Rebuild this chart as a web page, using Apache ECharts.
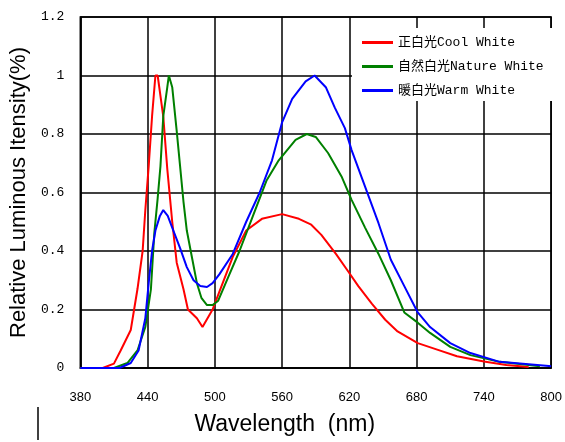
<!DOCTYPE html>
<html>
<head>
<meta charset="utf-8">
<script src="https://cdn.jsdelivr.net/npm/echarts@6/dist/echarts.min.js"></script>
<style>html,body{margin:0;padding:0;background:#fff}#c{width:565px;height:442px}</style>
</head>
<body>
<div id="c"></div>
<script>
var seriesNames = ['正白光Cool White', '自然白光Nature White', '暖白光Warm White'];
var xTicks = [380, 440, 500, 560, 620, 680, 740, 800];
var yTicks = [0, 0.2, 0.4, 0.6, 0.8, 1, 1.2];

var coolWl  = [380, 400, 410, 416, 425, 431, 435.6, 438, 441, 444, 447, 449, 454, 457.6, 462, 466, 472, 476, 484, 489, 498, 504, 516, 528, 542, 560, 575, 586, 595, 608, 619, 628, 640, 652, 663, 681, 699, 716, 740, 760, 775, 780];
var coolVal = [0, 0, 0.015, 0.06, 0.13, 0.27, 0.40, 0.54, 0.69, 0.86, 1.0, 1.0, 0.86, 0.68, 0.50, 0.36, 0.27, 0.20, 0.17, 0.14, 0.20, 0.26, 0.38, 0.47, 0.51, 0.526, 0.51, 0.49, 0.455, 0.39, 0.33, 0.28, 0.22, 0.165, 0.125, 0.085, 0.062, 0.04, 0.022, 0.01, 0.005, 0.003];

var natWl  = [380, 410, 422, 431, 438, 443, 446, 449, 451.5, 454, 457.6, 459, 462, 466, 469, 472, 475, 480, 484, 488, 493, 498, 503, 513, 522, 534, 546, 557, 572, 582, 590, 601, 613, 622, 634, 646, 657, 669, 681, 692, 710, 728, 754, 780, 790];
var natVal = [0, 0, 0.017, 0.06, 0.14, 0.27, 0.46, 0.58, 0.69, 0.86, 0.96, 1.0, 0.96, 0.81, 0.69, 0.57, 0.47, 0.37, 0.29, 0.24, 0.215, 0.215, 0.23, 0.32, 0.40, 0.52, 0.64, 0.71, 0.78, 0.80, 0.79, 0.735, 0.655, 0.575, 0.48, 0.39, 0.30, 0.19, 0.155, 0.12, 0.072, 0.044, 0.021, 0.01, 0.006];

var warmWl  = [380, 415, 425, 432, 438, 441, 444, 447, 451, 454, 458, 463, 469, 475, 481, 487, 493, 498, 504, 516, 528, 540, 551, 560, 569, 581, 589, 599, 607, 616, 622, 634, 646, 657, 669, 681, 692, 710, 728, 754, 798, 800];
var warmVal = [0, 0, 0.017, 0.06, 0.17, 0.29, 0.40, 0.47, 0.52, 0.54, 0.52, 0.47, 0.41, 0.345, 0.30, 0.28, 0.277, 0.29, 0.32, 0.39, 0.50, 0.60, 0.71, 0.84, 0.92, 0.98, 1.0, 0.96, 0.89, 0.82, 0.745, 0.62, 0.495, 0.37, 0.28, 0.19, 0.14, 0.085, 0.051, 0.021, 0.007, 0.006];

var colors = ['#ff0000', '#008000', '#0000ff'];

function zip(a, b) { return a.map(function (v, i) { return [v, b[i]]; }); }

var chart = echarts.init(document.getElementById('c'), null, {renderer: 'canvas'});
chart.setOption({
  animation: false,
  backgroundColor: '#fff',
  grid: {left: 78, right: 9, top: 17, bottom: 74, show: true, borderColor: '#000', borderWidth: 1.5, backgroundColor: 'transparent'},
  legend: {
    data: seriesNames,
    orient: 'vertical',
    left: 352, top: 28,
    backgroundColor: '#fff',
    padding: [8, 14, 4, 10],
    itemGap: 11,
    itemWidth: 31, itemHeight: 3,
    icon: 'rect',
    textStyle: {fontFamily: '"Liberation Mono", "Noto Sans CJK SC"', fontSize: 13, color: '#000'}
  },
  xAxis: {
    type: 'value', min: xTicks[0], max: xTicks[xTicks.length - 1], interval: 60,
    name: 'Wavelength  (nm)', nameLocation: 'middle', nameGap: 45,
    nameTextStyle: {fontFamily: '"Liberation Sans", Arial', fontSize: 23, color: '#000', padding: [0, 62, 0, 0]},
    axisLine: {lineStyle: {color: '#000', width: 1.5}},
    axisTick: {show: false},
    axisLabel: {margin: 23, fontFamily: '"Liberation Sans", Arial', fontSize: 13, color: '#000'},
    splitLine: {show: true, lineStyle: {color: '#000', width: 1.5}}
  },
  yAxis: {
    type: 'value', min: yTicks[0], max: yTicks[yTicks.length - 1], interval: 0.2,
    name: 'Relative Luminous Itensity(%)', nameLocation: 'middle', nameGap: 50,
    nameTextStyle: {fontFamily: '"Liberation Sans", Arial', fontSize: 22, color: '#000'},
    axisLine: {show: true, lineStyle: {color: '#000', width: 1.5}},
    axisTick: {show: false},
    axisLabel: {margin: 16, fontFamily: '"Liberation Mono", monospace', fontSize: 13, color: '#000'},
    splitLine: {show: true, lineStyle: {color: '#000', width: 1.5}}
  },
  graphic: [{type: 'line', shape: {x1: 38, y1: 407, x2: 38, y2: 440}, style: {stroke: '#000', lineWidth: 1.5}}],
  series: [
    {name: seriesNames[0], type: 'line', data: zip(coolWl, coolVal), showSymbol: false, symbol: 'none', lineStyle: {color: colors[0], width: 2}, itemStyle: {color: colors[0]}},
    {name: seriesNames[1], type: 'line', data: zip(natWl, natVal), showSymbol: false, symbol: 'none', lineStyle: {color: colors[1], width: 2}, itemStyle: {color: colors[1]}},
    {name: seriesNames[2], type: 'line', data: zip(warmWl, warmVal), showSymbol: false, symbol: 'none', lineStyle: {color: colors[2], width: 2}, itemStyle: {color: colors[2]}}
  ]
});
</script>
</body>
</html>
